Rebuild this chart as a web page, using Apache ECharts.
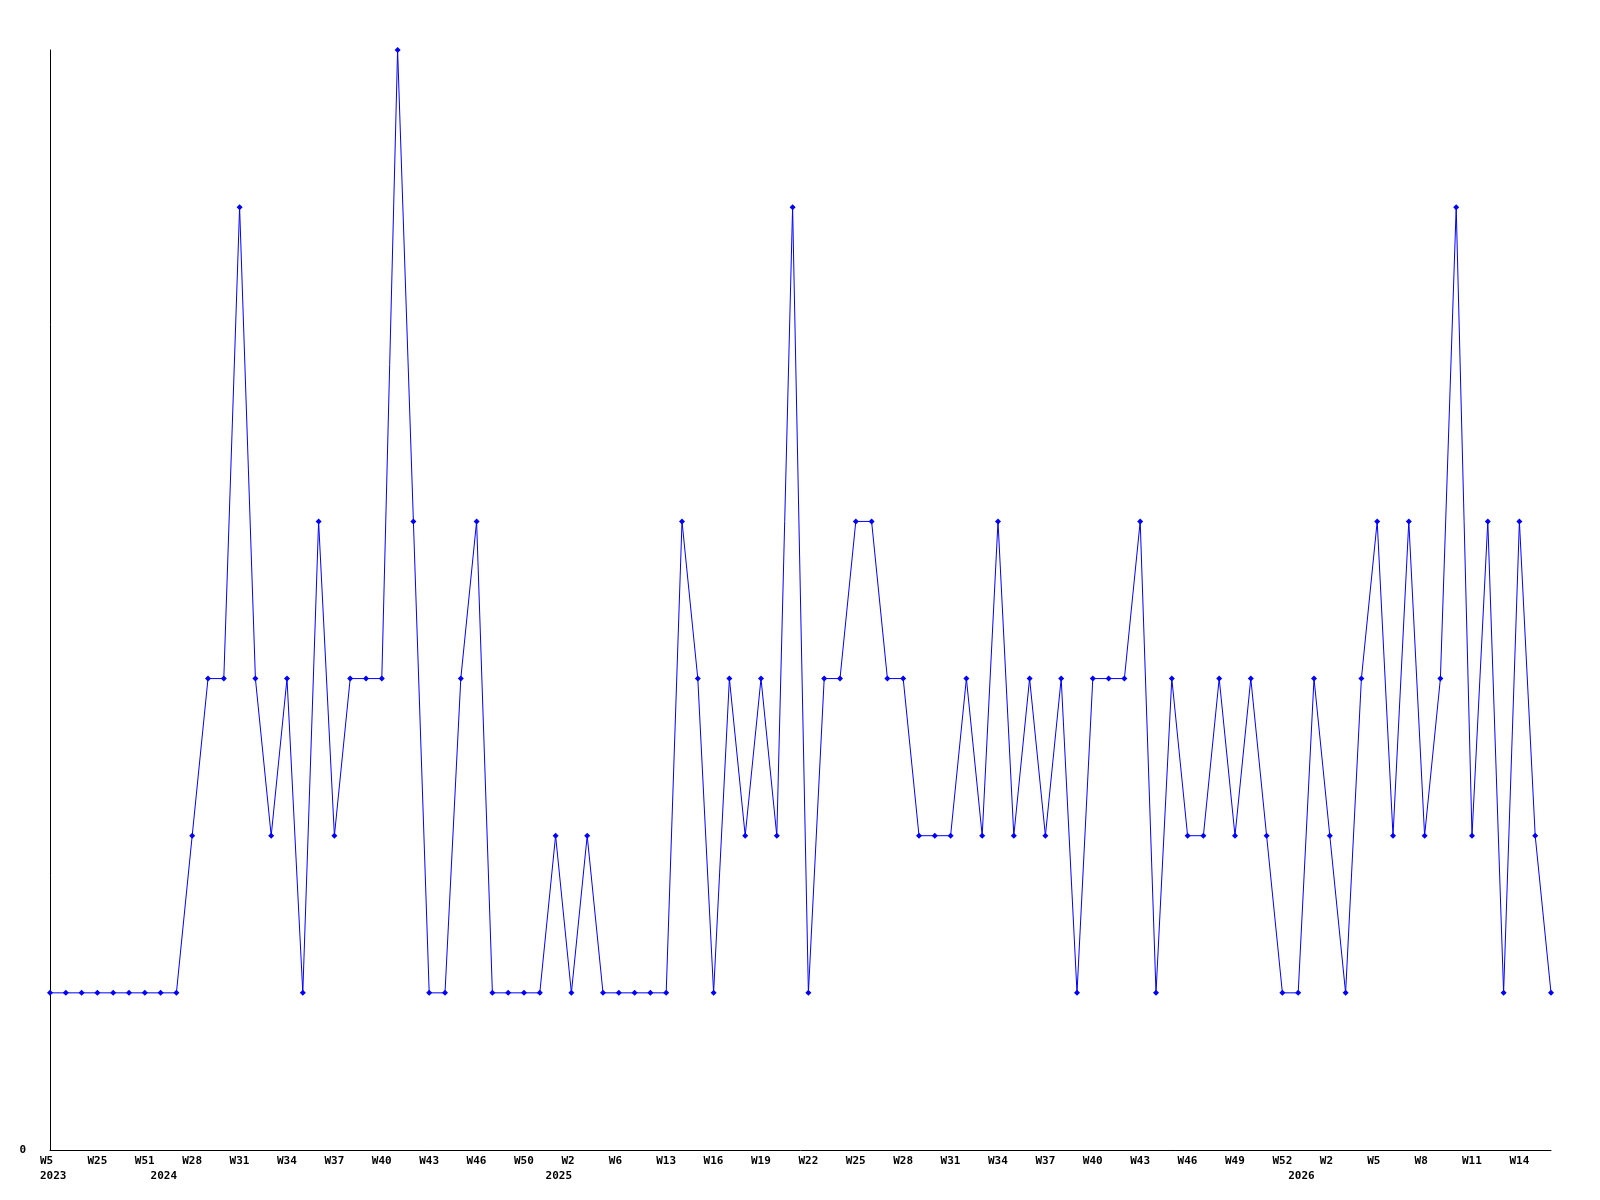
<!DOCTYPE html>
<html><head><meta charset="utf-8">
<script src="https://cdn.jsdelivr.net/npm/echarts@6/dist/echarts.min.js"></script>
<style>html,body{margin:0;padding:0;background:#fff}#c{width:1600px;height:1200px}</style>
</head><body><div id="c"></div>
<script>
// Week of each data point (weeks with no entries are absent from the series)
const weeks = [
  'W5','W12','W18','W25','W33','W42','W51',
  'W9','W20','W28','W29','W30','W31','W32','W33','W34','W35','W36','W37','W38','W39','W40','W41','W42','W43','W44','W45','W46','W47','W48','W50','W51',
  'W1','W2','W3','W4','W6','W9','W11','W13','W14','W15','W16','W17','W18','W19','W20','W21','W22','W23','W24','W25','W26','W27','W28','W29','W30','W31','W32','W33','W34','W35','W36','W37','W38','W39','W40','W41','W42','W43','W44','W45','W46','W47','W48','W49','W50','W51','W52',
  'W0','W1','W2','W3','W4','W5','W6','W7','W8','W9','W10','W11','W12','W13','W14','W15','W16'
];
const years = [
  '2023','2023','2023','2023','2023','2023','2023',
  '2024','2024','2024','2024','2024','2024','2024','2024','2024','2024','2024','2024','2024','2024','2024','2024','2024','2024','2024','2024','2024','2024','2024','2024','2024',
  '2025','2025','2025','2025','2025','2025','2025','2025','2025','2025','2025','2025','2025','2025','2025','2025','2025','2025','2025','2025','2025','2025','2025','2025','2025','2025','2025','2025','2025','2025','2025','2025','2025','2025','2025','2025','2025','2025','2025','2025','2025','2025','2025','2025','2025','2025','2025',
  '2026','2026','2026','2026','2026','2026','2026','2026','2026','2026','2026','2026','2026','2026','2026','2026','2026'
];
const values = [
  1,1,1,1,1,1,1,1,1,
  2,3,3,6,3,2,3,1,4,2,3,3,3,7,4,1,
  1,3,4,1,1,1,1,2,1,2,1,1,1,1,1,4,3,1,3,2,3,2,6,1,3,
  3,4,4,3,3,2,2,2,3,2,4,2,3,2,3,1,3,3,3,4,1,3,2,2,3,
  2,3,2,1,1,3,2,1,3,4,2,4,2,3,6,2,4,1,4,2,1
];
const weekLabelStep = 3;
const yMin = 0, yMax = 7;
const yTickLabels = ['0'];

const FONT = 'DejaVu Sans Mono';
function firstOfYear(i) { return i === 0 || years[i] !== years[i - 1]; }

const chart = echarts.init(document.getElementById('c'), null, { renderer: 'canvas' });
chart.setOption({
  animation: false,
  backgroundColor: '#ffffff',
  grid: { left: 50, right: 49, top: 50, bottom: 50, containLabel: false },
  xAxis: {
    type: 'category',
    data: weeks,
    boundaryGap: false,
    axisLine: { show: true, lineStyle: { color: '#000', width: 1 } },
    axisTick: { show: false },
    splitLine: { show: false },
    axisLabel: {
      interval: function (i) { return i % weekLabelStep === 0 || firstOfYear(i); },
      margin: 4,
      formatter: function (v, i) {
        const w = (i % weekLabelStep === 0) ? weeks[i] : ' ';
        const y = firstOfYear(i) ? years[i] : ' ';
        return '{w|' + w + '}\n{w|' + y + '}';
      },
      rich: {
        w: { width: 20, align: 'left', fontFamily: FONT, fontSize: 11, fontWeight: 'bold', color: '#000', lineHeight: 15 }
      }
    }
  },
  yAxis: {
    type: 'value',
    min: yMin, max: yMax, interval: yMax - yMin,
    axisLine: { show: true, lineStyle: { color: '#000', width: 1 } },
    axisTick: { show: false },
    splitLine: { show: false },
    axisLabel: {
      margin: 24,
      padding: [4, 0, 0, 0],
      fontFamily: FONT, fontSize: 11, fontWeight: 'bold', color: '#000',
      formatter: function (v) { return v === yMin ? yTickLabels[0] : ''; }
    }
  },
  series: [{
    type: 'line',
    data: values,
    showSymbol: true,
    showAllSymbol: true,
    symbol: 'diamond',
    symbolSize: 6,
    itemStyle: { color: '#0000ff' },
    lineStyle: { color: '#0000ff', width: 1 }
  }]
});
</script>
</body></html>
